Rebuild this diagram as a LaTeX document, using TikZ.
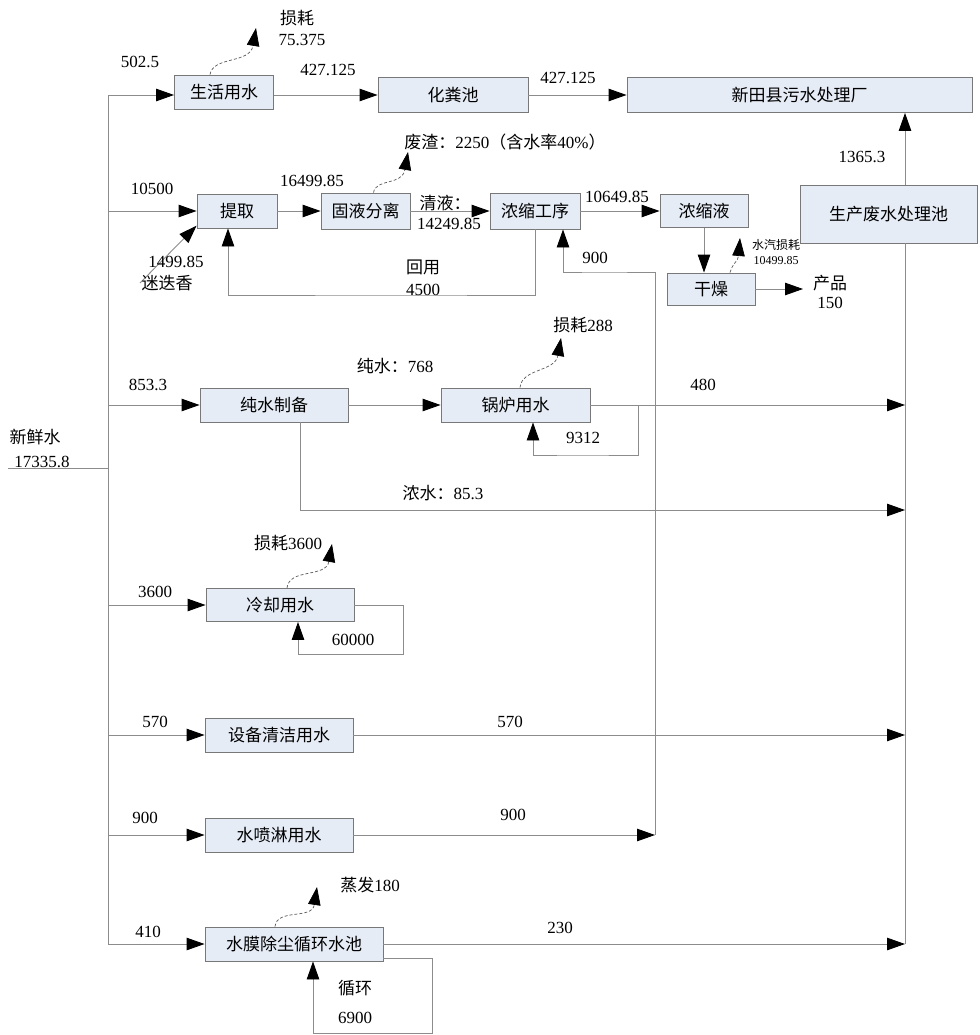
\documentclass[tikz,border=0pt]{standalone}
\usepackage{fontspec}
\setmainfont{Liberation Serif}
\newfontfamily\zhfont{Noto Sans CJK SC}
\newcommand{\zh}[1]{{\zhfont #1}}
\usetikzlibrary{arrows.meta}
\definecolor{boxfill}{RGB}{230,236,246}
\definecolor{boxline}{RGB}{120,120,120}
\definecolor{lncol}{RGB}{140,140,140}
\begin{document}
\begin{tikzpicture}[x=1pt,y=-1pt,
  font=\fontsize{17}{20}\selectfont,
  box/.style={draw=boxline, fill=boxfill, line width=0.9pt, inner sep=0pt, font=\fontsize{17}{20}\selectfont\zhfont},
  flow/.style={draw=lncol, line width=0.9pt},
  arr/.style={-{Triangle[length=18pt,width=12.5pt,color=black]}},
  wavy/.style={draw=black!65, line width=0.7pt, dash pattern=on 3pt off 2pt},
  lbl/.style={inner sep=0pt, anchor=center},
  small/.style={inner sep=0pt, font=\fontsize{12}{14}\selectfont}]
\useasboundingbox (0,0) rectangle (979,1035);

% boxes
\node[box, minimum width=99pt, minimum height=34pt] (sh) at (224,92) {生活用水};
\node[box, minimum width=150pt, minimum height=35pt] (hf) at (453,95) {化粪池};
\node[box, minimum width=345pt, minimum height=35pt] (xt) at (799.5,95) {新田县污水处理厂};
\node[box, minimum width=80pt, minimum height=34pt] (tq) at (237,211) {提取};
\node[box, minimum width=89pt, minimum height=36pt] (gy) at (365.5,211) {固液分离};
\node[box, minimum width=90pt, minimum height=36pt] (ns) at (535,211) {浓缩工序};
\node[box, minimum width=88pt, minimum height=33pt] (nsy) at (704,211) {浓缩液};
\node[box, minimum width=88pt, minimum height=32pt] (gz) at (711,289) {干燥};
\node[box, minimum width=177pt, minimum height=58pt] (sc) at (888.5,214) {生产废水处理池};
\node[box, minimum width=148pt, minimum height=34pt] (cs) at (274,405) {纯水制备};
\node[box, minimum width=149pt, minimum height=34pt] (gl) at (515.5,405) {锅炉用水};
\node[box, minimum width=148pt, minimum height=33pt] (lq) at (280,605) {冷却用水};
\node[box, minimum width=148pt, minimum height=34pt] (sb) at (279,735) {设备清洁用水};
\node[box, minimum width=148pt, minimum height=34pt] (pl) at (279,835) {水喷淋用水};
\node[box, minimum width=178pt, minimum height=34pt] (sm) at (294,944) {水膜除尘循环水池};

% coordinates
\coordinate (tx) at (108,0);
\coordinate (cx) at (905,0);
\coordinate (ttop) at (108,95);
\coordinate (tbot) at (108,944);
\coordinate (fin) at (8,468);
\coordinate (fout) at (108,468);
\coordinate (e2) at (905,510);
\coordinate (j900) at (655,835);
\coordinate (c900) at (600,272);
\coordinate (c45) at (400,295);
\coordinate (g1) at (638,405);
\coordinate (g2) at (580,455);
\coordinate (l1) at (403,654);
\coordinate (m1) at (432,1033);
\coordinate (rs) at (140,283);
\coordinate (prod) at (803,289);
\coordinate (w1) at (256,28);
\coordinate (w2) at (408,152);
\coordinate (w3) at (740,238);
\coordinate (w4) at (561,338);
\coordinate (w5) at (332,544);
\coordinate (w6) at (317,887);

% trunk
\draw[flow] (ttop) -- (tbot);
\draw[flow] (fin) -- (fout);
\draw[flow,arr] (ttop) -- (ttop -| sh.west);
\draw[flow,arr] (tx |- tq.west) -- (tq.west);
\draw[flow,arr] (tx |- cs.west) -- (cs.west);
\draw[flow,arr] (tx |- lq.west) -- (lq.west);
\draw[flow,arr] (tx |- sb.west) -- (sb.west);
\draw[flow,arr] (tx |- pl.west) -- (pl.west);
\draw[flow,arr] (tbot) -- (sm.west);

% row 1
\draw[flow,arr] (ttop -| sh.east) -- (hf.west);
\draw[flow,arr] (hf.east) -- (xt.west);
\draw[flow,arr] (cx |- sc.north) -- (cx |- xt.south);
\draw[flow] (cx |- sc.south) -- (cx |- sm.east);

% row 2
\draw[flow,arr] (rs) -- (tq.200);
\draw[flow,arr] (tq.east) -- (gy.west);
\draw[flow,arr] (gy.east) -- (ns.west);
\draw[flow,arr] (ns.east) -- (nsy.west);
\draw[flow,arr] (nsy.south) -- (nsy.south |- gz.north);
\draw[flow,arr] (gz.east) -- (prod);
\draw[flow,arr] (ns.south) |- (c45) -| ([xshift=-9pt]tq.south);
\draw[flow,arr] (j900) |- (c900) -| ([xshift=28pt]ns.south);

% row 3
\draw[flow,arr] (cs.east) -- (gl.west);
\draw[flow,arr] (gl.east) -- (cx |- gl.east);
\draw[flow,arr] (g1) |- (g2) -| ([xshift=17.5pt]gl.south);
\draw[flow,arr] ([xshift=26pt]cs.south) |- (e2);

% cooling
\draw[flow,arr] (lq.east) -| (l1) -| ([xshift=18pt]lq.south);

% others
\draw[flow,arr] (sb.east) -- (cx |- sb.east);
\draw[flow,arr] (pl.east) -- (j900);
\draw[flow,arr] (sm.east) -- (cx |- sm.east);
\draw[flow,arr] ([yshift=-14pt]sm.east) -| (m1) -| ([xshift=19pt]sm.south);

% wavy loss arrows
\draw[wavy,arr] ([xshift=-14pt]sh.north) .. controls (213,56) and (250,64) .. (w1);
\draw[wavy,arr] ([xshift=8pt]gy.north) .. controls (376,178) and (402,186) .. (w2);
\draw[wavy,arr] ([xshift=19pt]gz.north) .. controls (733,262) and (738,262) .. (w3);
\draw[wavy,arr] ([xshift=4.5pt]gl.north) .. controls (522,368) and (555,372) .. (w4);
\draw[wavy,arr] ([xshift=7pt]lq.north) .. controls (289,568) and (326,578) .. (w5);
\draw[wavy,arr] ([xshift=-19pt]sm.north) .. controls (277,908) and (312,920) .. (w6);

% labels
\node[lbl] (t1) at (140,62) {502.5};
\node[lbl] (t2) at (297,18) {\zh{损耗}};
\node[lbl] (t3) at (302,40) {75.375};
\node[lbl] (t4) at (328,70) {427.125};
\node[lbl] (t5) at (568,78) {427.125};
\node[lbl] (t6) at (862,157) {1365.3};
\node[lbl] (t7) at (152,189) {10500};
\node[lbl] (t8) at (312,181) {16499.85};
\node[lbl] (t9) at (505,142) {\zh{废渣：}2250\zh{（含水率}40\%\zh{）}};
\node[lbl] (t10) at (445,203) {\zh{清液：}};
\node[lbl] (t11) at (449,224) {14249.85};
\node[lbl] (t12) at (617,197) {10649.85};
\node[lbl] (t13) at (176,262) {1499.85};
\node[lbl] (t14) at (167,283) {\zh{迷迭香}};
\node[lbl] (t15) at (423,267) {\zh{回用}};
\node[lbl] (t16) at (423,290) {4500};
\node[lbl] (t17) at (595,258) {900};
\node[small] (t18) at (776,245) {\zh{水汽损耗}};
\node[small] (t19) at (776,261) {10499.85};
\node[lbl] (t20) at (830,283) {\zh{产品}};
\node[lbl] (t21) at (830,303) {150};
\node[lbl] (t22) at (583,325) {\zh{损耗}288};
\node[lbl] (t23) at (395,366) {\zh{纯水：}768};
\node[lbl] (t24) at (148,385) {853.3};
\node[lbl] (t25) at (703,385) {480};
\node[lbl] (t26) at (583,438) {9312};
\node[lbl] (t27) at (35,437) {\zh{新鲜水}};
\node[lbl] (t28) at (42,462) {17335.8};
\node[lbl] (t29) at (443,493) {\zh{浓水：}85.3};
\node[lbl] (t30) at (288,543) {\zh{损耗}3600};
\node[lbl] (t31) at (155,592) {3600};
\node[lbl] (t32) at (353,640) {60000};
\node[lbl] (t33) at (155,722) {570};
\node[lbl] (t34) at (510,722) {570};
\node[lbl] (t35) at (145,818) {900};
\node[lbl] (t36) at (513,815) {900};
\node[lbl] (t37) at (370,885) {\zh{蒸发}180};
\node[lbl] (t38) at (148,932) {410};
\node[lbl] (t39) at (560,928) {230};
\node[lbl] (t40) at (355,988) {\zh{循环}};
\node[lbl] (t41) at (355,1018) {6900};
\end{tikzpicture}
\end{document}
